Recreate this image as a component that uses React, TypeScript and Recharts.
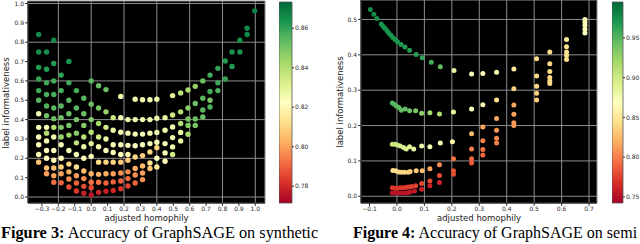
import React from "react";
import {
    ScatterChart,
    Scatter,
    XAxis,
    YAxis,
    CartesianGrid,
    ComposedChart,
    ReferenceArea,
} from "recharts";

// ---- Figure 3 (synthetic): columns of adjusted homophily, with label informativeness + accuracy per point
const fig3Cols = [
    -0.32, -0.272, -0.228, -0.183, -0.136, -0.09, -0.045, 0.0, 0.045, 0.09, 0.134, 0.18, 0.224, 0.268, 0.313,
    0.358, 0.4, 0.45, 0.496, 0.545, 0.59, 0.634, 0.68, 0.724, 0.772, 0.817, 0.858, 0.906, 0.95, 0.996,
];
const fig3Ys = [
    [0.84, 0.75, 0.67, 0.61, 0.55, 0.5, 0.43, 0.36, 0.31, 0.27, 0.22, 0.18],
    [0.75, 0.66, 0.59, 0.53, 0.47, 0.42, 0.36, 0.33, 0.29, 0.24, 0.2, 0.15, 0.12],
    [0.81, 0.69, 0.6, 0.53, 0.46, 0.405, 0.36, 0.31, 0.24, 0.19, 0.15, 0.11, 0.076],
    [0.63, 0.55, 0.47, 0.41, 0.36, 0.31, 0.27, 0.2, 0.155, 0.12, 0.074],
    [0.7, 0.59, 0.5, 0.43, 0.37, 0.32, 0.24, 0.17, 0.13, 0.093, 0.052],
    [0.55, 0.46, 0.4, 0.33, 0.28, 0.22, 0.155, 0.11, 0.072, 0.031],
    [0.51, 0.43, 0.37, 0.31, 0.26, 0.2, 0.134, 0.095, 0.055, 0.02],
    [0.6, 0.48, 0.4, 0.335, 0.276, 0.21, 0.12, 0.076, 0.048, 0.01],
    [0.575, 0.46, 0.38, 0.31, 0.26, 0.18, 0.117, 0.076, 0.024],
    [0.555, 0.44, 0.36, 0.3, 0.24, 0.18, 0.12, 0.072, 0.03],
    [0.41, 0.345, 0.27, 0.23, 0.18, 0.12, 0.078, 0.034],
    [0.52, 0.41, 0.335, 0.27, 0.22, 0.18, 0.124, 0.083, 0.043],
    [0.4, 0.33, 0.267, 0.22, 0.19, 0.13, 0.095, 0.057],
    [0.505, 0.4, 0.325, 0.265, 0.207, 0.147, 0.114, 0.072],
    [0.503, 0.4, 0.325, 0.27, 0.214, 0.16, 0.124, 0.09],
    [0.503, 0.4, 0.33, 0.276, 0.233, 0.176, 0.147],
    [0.505, 0.407, 0.334, 0.283, 0.255, 0.2, 0.155],
    [0.41, 0.345, 0.276, 0.228, 0.185],
    [0.524, 0.424, 0.362, 0.307, 0.259, 0.22],
    [0.538, 0.44, 0.38, 0.334, 0.29],
    [0.553, 0.46, 0.403, 0.37, 0.324],
    [0.572, 0.483, 0.403, 0.37],
    [0.6, 0.51, 0.45, 0.414],
    [0.63, 0.545, 0.5, 0.465],
    [0.665, 0.59, 0.55],
    [0.703, 0.61],
    [0.75, 0.675],
    [0.81, 0.75],
    [0.872, 0.84],
    [0.962],
];
const fig3Acc = [
    [0.866, 0.865, 0.862, 0.86, 0.858, 0.855, 0.825, 0.823, 0.823, 0.822, 0.821, 0.806],
    [0.865, 0.862, 0.858, 0.857, 0.856, 0.852, 0.825, 0.84, 0.825, 0.823, 0.822, 0.806, 0.8],
    [0.866, 0.862, 0.858, 0.857, 0.855, 0.852, 0.84, 0.826, 0.823, 0.82, 0.806, 0.8, 0.792],
    [0.86, 0.857, 0.855, 0.852, 0.85, 0.845, 0.825, 0.822, 0.808, 0.8, 0.79],
    [0.863, 0.858, 0.855, 0.852, 0.85, 0.845, 0.825, 0.81, 0.803, 0.797, 0.787],
    [0.857, 0.855, 0.85, 0.848, 0.838, 0.825, 0.812, 0.8, 0.79, 0.783],
    [0.855, 0.852, 0.848, 0.84, 0.828, 0.822, 0.805, 0.797, 0.787, 0.778],
    [0.855, 0.852, 0.848, 0.84, 0.83, 0.822, 0.803, 0.793, 0.786, 0.776],
    [0.853, 0.85, 0.843, 0.835, 0.826, 0.812, 0.803, 0.793, 0.779],
    [0.852, 0.845, 0.835, 0.827, 0.824, 0.81, 0.802, 0.79, 0.778],
    [0.835, 0.828, 0.825, 0.824, 0.81, 0.8, 0.79, 0.78],
    [0.826, 0.826, 0.825, 0.824, 0.822, 0.808, 0.798, 0.79, 0.782],
    [0.826, 0.825, 0.824, 0.82, 0.808, 0.797, 0.792, 0.785],
    [0.826, 0.826, 0.825, 0.824, 0.81, 0.802, 0.797, 0.79],
    [0.826, 0.826, 0.825, 0.824, 0.808, 0.804, 0.8, 0.797],
    [0.826, 0.826, 0.825, 0.824, 0.81, 0.812, 0.806],
    [0.826, 0.826, 0.825, 0.824, 0.81, 0.822, 0.815],
    [0.828, 0.826, 0.825, 0.824, 0.82],
    [0.83, 0.835, 0.826, 0.826, 0.826, 0.835],
    [0.838, 0.84, 0.84, 0.828, 0.828],
    [0.842, 0.848, 0.85, 0.848, 0.842],
    [0.845, 0.852, 0.852, 0.85],
    [0.852, 0.855, 0.855, 0.852],
    [0.858, 0.858, 0.85, 0.856],
    [0.86, 0.858, 0.856],
    [0.862, 0.86],
    [0.864, 0.862],
    [0.865, 0.864],
    [0.866, 0.866],
    [0.868],
];
const fig3XTicks = [-0.3, -0.2, -0.1, 0.0, 0.1, 0.2, 0.3, 0.4, 0.5, 0.6, 0.7, 0.8, 0.9, 1.0];
const fig3YTicks = [0.0, 0.1, 0.2, 0.3, 0.4, 0.5, 0.6, 0.7, 0.8, 0.9, 1.0];
const fig3CbTicks = [0.78, 0.8, 0.82, 0.84, 0.86];
const fig3CbRange: [number, number] = [0.7715, 0.8733];

// ---- Figure 4 (semi-synthetic): curves at low homophily, [x, y, acc]
const fig4Top = [
    [-0.097, 0.528, 0.975], [-0.084, 0.515, 0.975], [-0.073, 0.503, 0.974], [-0.057, 0.487, 0.973],
    [-0.051, 0.481, 0.973], [-0.044, 0.475, 0.972], [-0.036, 0.468, 0.972], [-0.029, 0.461, 0.971],
    [-0.022, 0.455, 0.971], [-0.015, 0.449, 0.97], [-0.007, 0.443, 0.97], [0.002, 0.437, 0.969],
    [0.015, 0.429, 0.968], [0.029, 0.422, 0.967], [0.046, 0.413, 0.966], [0.07, 0.401, 0.964],
    [0.092, 0.392, 0.962], [0.125, 0.379, 0.955], [0.158, 0.366, 0.945], [0.208, 0.356, 0.885],
];
const fig4Second = [
    [-0.017, 0.264, 0.95], [-0.01, 0.26, 0.95], [-0.002, 0.255, 0.948], [0.007, 0.251, 0.947],
    [0.016, 0.243, 0.945], [0.03, 0.247, 0.945], [0.046, 0.242, 0.94], [0.068, 0.242, 0.935],
    [0.09, 0.235, 0.925], [0.12, 0.236, 0.92], [0.155, 0.233, 0.915], [0.206, 0.238, 0.885],
];
const fig4Third = [
    [-0.017, 0.147, 0.905], [-0.007, 0.147, 0.903], [0.002, 0.145, 0.9], [0.012, 0.142, 0.898],
    [0.024, 0.138, 0.895], [0.034, 0.134, 0.893], [0.046, 0.14, 0.89], [0.061, 0.134, 0.885],
    [0.09, 0.142, 0.88], [0.12, 0.14, 0.875], [0.158, 0.151, 0.87], [0.202, 0.154, 0.86],
];
const fig4Fourth = [
    [-0.015, 0.073, 0.842], [-0.005, 0.072, 0.842], [0.005, 0.069, 0.84], [0.015, 0.068, 0.84],
    [0.027, 0.068, 0.84], [0.041, 0.068, 0.838], [0.048, 0.07, 0.836], [0.07, 0.072, 0.832],
    [0.092, 0.072, 0.825], [0.12, 0.078, 0.815], [0.155, 0.089, 0.805], [0.206, 0.106, 0.795],
];
const fig4Fifth = [
    [-0.017, 0.024, 0.77], [-0.007, 0.023, 0.77], [0.002, 0.023, 0.77], [0.012, 0.024, 0.77],
    [0.022, 0.024, 0.772], [0.032, 0.025, 0.772], [0.041, 0.026, 0.773], [0.053, 0.028, 0.775],
    [0.068, 0.03, 0.776], [0.09, 0.036, 0.777], [0.12, 0.043, 0.778], [0.155, 0.059, 0.78],
    [0.206, 0.072, 0.782], [0.206, 0.062, 0.78],
];
const fig4Sixth = [
    [-0.017, 0.009, 0.752], [-0.007, 0.009, 0.752], [0.002, 0.009, 0.752], [0.014, 0.009, 0.753],
    [0.026, 0.009, 0.753], [0.038, 0.01, 0.754], [0.048, 0.012, 0.755], [0.064, 0.015, 0.756],
    [0.09, 0.02, 0.758], [0.12, 0.03, 0.76], [0.155, 0.039, 0.762],
];
// higher homophily: columns
const fig4Cols = [0.272, 0.313, 0.363, 0.426, 0.509, 0.557, 0.618, 0.685];
const fig4ColYs = [
    [0.346, 0.247, 0.177, 0.134, 0.106, 0.094],
    [0.347, 0.259, 0.196, 0.157, 0.132, 0.117],
    [0.351, 0.272, 0.22, 0.187, 0.164, 0.151],
    [0.36, 0.304, 0.258, 0.232, 0.208, 0.2],
    [0.389, 0.34, 0.311, 0.291, 0.272],
    [0.408, 0.375, 0.353, 0.336, 0.326, 0.319],
    [0.443, 0.423, 0.408, 0.398, 0.387],
    [0.5, 0.492, 0.483, 0.472, 0.462],
];
const fig4ColAcc = [
    [0.87, 0.87, 0.825, 0.8, 0.79, 0.785],
    [0.87, 0.865, 0.815, 0.8, 0.795, 0.79],
    [0.865, 0.845, 0.815, 0.81, 0.805, 0.8],
    [0.85, 0.835, 0.815, 0.815, 0.81, 0.81],
    [0.84, 0.84, 0.84, 0.835, 0.835],
    [0.84, 0.84, 0.84, 0.84, 0.84, 0.84],
    [0.85, 0.845, 0.845, 0.845, 0.845],
    [0.87, 0.87, 0.87, 0.87, 0.87],
];
const fig4XTicks = [-0.1, 0.0, 0.1, 0.2, 0.3, 0.4, 0.5, 0.6, 0.7];
const fig4YTicks = [0.0, 0.1, 0.2, 0.3, 0.4, 0.5];
const fig4CbTicks = [0.75, 0.8, 0.85, 0.9, 0.95];
const fig4CbRange: [number, number] = [0.7424, 0.995];

// matplotlib RdYlGn
const RDYLGN = [
    "#a50026", "#d73027", "#f46d43", "#fdae61", "#fee08b", "#ffffbf",
    "#d9ef8b", "#a6d96a", "#66bd63", "#1a9850", "#006837",
];

function hex(c: string) {
    return [1, 3, 5].map((i) => parseInt(c.slice(i, i + 2), 16));
}

function cmap(v: number, range: [number, number]) {
    let t = (v - range[0]) / (range[1] - range[0]);
    t = Math.max(0, Math.min(1, t));
    const s = t * 10;
    const i = Math.min(9, Math.floor(s));
    const f = s - i;
    const a = hex(RDYLGN[i]);
    const b = hex(RDYLGN[i + 1]);
    const c = a.map((v0, k) => Math.round(v0 + (b[k] - v0) * f));
    return `rgb(${c[0]},${c[1]},${c[2]})`;
}

const fig3Points = fig3Cols.flatMap((x, i) =>
    fig3Ys[i].map((y, j) => ({ x, y, color: cmap(fig3Acc[i][j], fig3CbRange) }))
);

const fig4Points = [
    ...[...fig4Top, ...fig4Second, ...fig4Third, ...fig4Fourth, ...fig4Fifth, ...fig4Sixth].map(
        ([x, y, a]) => ({ x, y, color: cmap(a, fig4CbRange) })
    ),
    ...fig4Cols.flatMap((x, i) =>
        fig4ColYs[i].map((y, j) => ({ x, y, color: cmap(fig4ColAcc[i][j], fig4CbRange) }))
    ),
];

const TICK = { fontSize: 6, fill: "#2a2a2a", fontFamily: "DejaVu Sans" };
const fmt = (v: number) => v.toFixed(1).replace("-", "\u2212");
const fmt2 = (v: number) => v.toFixed(2);

const dot = (r: number) => (p: any) => <circle cx={p.cx} cy={p.cy} r={r} fill={p.payload.color} />;

function Plot(props: any) {
    const { left, points, xDomain, yDomain, xTicks, yTicks, yAxisW, marginRight, r } = props;
    return (
        <div style={{ position: "absolute", left, top: 0 }}>
            <ScatterChart
                width={320}
                height={244}
                margin={{ top: props.top, right: marginRight, bottom: 17, left: 0 }}
            >
                <CartesianGrid fill="#000" fillOpacity={1} stroke="#8c8c8c" strokeWidth={1} />
                <XAxis
                    dataKey="x"
                    type="number"
                    domain={xDomain}
                    ticks={xTicks}
                    allowDataOverflow
                    height={24}
                    tick={TICK}
                    tickFormatter={fmt}
                    tickSize={3}
                    tickMargin={1}
                    axisLine={{ stroke: "#000" }}
                    tickLine={{ stroke: "#333" }}
                />
                <YAxis
                    dataKey="y"
                    type="number"
                    domain={yDomain}
                    ticks={yTicks}
                    allowDataOverflow
                    width={yAxisW}
                    tick={TICK}
                    tickFormatter={fmt}
                    tickSize={3}
                    tickMargin={1}
                    axisLine={{ stroke: "#000" }}
                    tickLine={{ stroke: "#333" }}
                />
                <Scatter data={points} shape={dot(r)} isAnimationActive={false} />
            </ScatterChart>
        </div>
    );
}

function ColorBar(props: any) {
    const { left, width, range, ticks, id } = props;
    return (
        <div style={{ position: "absolute", left, top: 0 }}>
            <ComposedChart
                width={width + 34}
                height={244}
                data={[{ x: 0 }, { x: 1 }]}
                margin={{ top: 2, right: 0, bottom: 41, left: 0 }}
            >
                <XAxis dataKey="x" type="number" domain={[0, 1]} hide />
                <YAxis
                    orientation="right"
                    type="number"
                    domain={range}
                    ticks={ticks}
                    allowDataOverflow
                    width={34}
                    tick={TICK}
                    tickFormatter={fmt2}
                    tickSize={2}
                    tickMargin={1}
                    axisLine={false}
                    tickLine={{ stroke: "#333" }}
                />
                <ReferenceArea
                    x1={0}
                    x2={1}
                    y1={range[0]}
                    y2={range[1]}
                    fill={`url(#${id})`}
                    fillOpacity={1}
                    stroke="#555"
                    strokeWidth={0.8}
                    ifOverflow="visible"
                />
            </ComposedChart>
        </div>
    );
}

const axisLabel: React.CSSProperties = {
    position: "absolute",
    fontFamily: "DejaVu Sans",
    fontSize: 8.5,
    lineHeight: "8.5px",
    color: "#222",
    whiteSpace: "nowrap",
};

const caption: React.CSSProperties = {
    position: "absolute",
    top: 225,
    fontFamily: "Liberation Serif",
    lineHeight: "16px",
    color: "#000",
    whiteSpace: "nowrap",
};

export default function App() {
    return (
        <div
            style={{
                position: "absolute",
                left: 0,
                top: 0,
                width: 640,
                height: 244,
                background: "#fff",
                overflow: "hidden",
            }}
        >
            <svg width={0} height={0} style={{ position: "absolute" }}>
                <defs>
                    <linearGradient id="rdylgn" x1="0" y1="1" x2="0" y2="0">
                        {RDYLGN.map((c, i) => (
                            <stop key={i} offset={`${i * 10}%`} stopColor={c} />
                        ))}
                    </linearGradient>
                </defs>
            </svg>

            <Plot
                left={0}
                points={fig3Points}
                xDomain={[-0.385, 1.059]}
                yDomain={[-0.031, 1.013]}
                xTicks={fig3XTicks}
                yTicks={fig3YTicks}
                yAxisW={28}
                marginRight={55}
                top={1}
                r={2.7}
            />
            <ColorBar left={279} width={13} range={fig3CbRange} ticks={fig3CbTicks} id="rdylgn" />

            <Plot
                left={320}
                points={fig4Points}
                xDomain={[-0.131, 0.729]}
                yDomain={[-0.019, 0.555]}
                xTicks={fig4XTicks}
                yTicks={fig4YTicks}
                yAxisW={41}
                marginRight={43}
                top={0}
                r={2.5}
            />
            <ColorBar left={612} width={11} range={fig4CbRange} ticks={fig4CbTicks} id="rdylgn" />

            <div style={{ ...axisLabel, left: 146.5, top: 214, transform: "translateX(-50%)" }}>
                adjusted homophily
            </div>
            <div style={{ ...axisLabel, left: 479, top: 214, transform: "translateX(-50%)" }}>
                adjusted homophily
            </div>
            <div
                style={{
                    ...axisLabel,
                    left: 6,
                    top: 103,
                    transform: "translate(-50%, -50%) rotate(-90deg)",
                }}
            >
                label informativeness
            </div>
            <div
                style={{
                    ...axisLabel,
                    left: 340,
                    top: 102,
                    transform: "translate(-50%, -50%) rotate(-90deg)",
                }}
            >
                label informativeness
            </div>

            <div style={{ ...caption, left: 1, fontSize: 16.3 }}>
                <b>Figure 3:</b> Accuracy of GraphSAGE on synthetic
            </div>
            <div style={{ ...caption, left: 353, fontSize: 16 }}>
                <b>Figure 4:</b> Accuracy of GraphSAGE on semi
            </div>
        </div>
    );
}
